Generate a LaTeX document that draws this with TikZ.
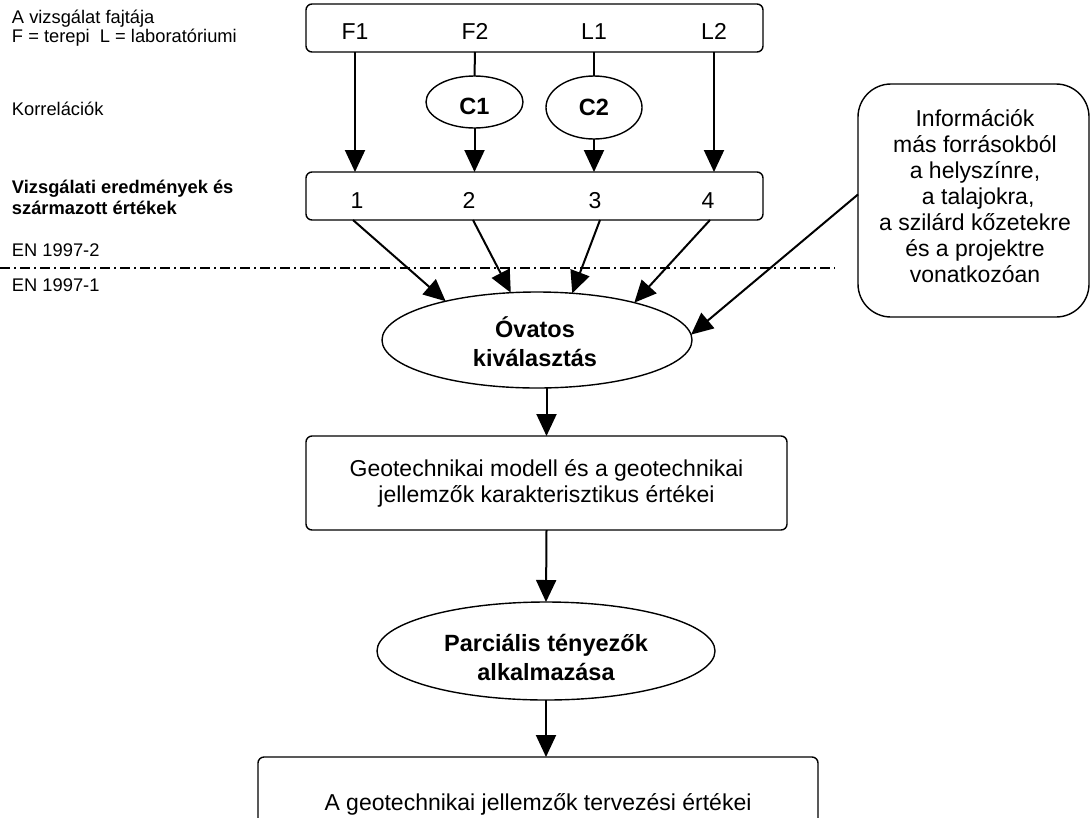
\documentclass[tikz,border=0pt]{standalone}
\usepackage{fontspec}
\setmainfont{Liberation Sans}
\usetikzlibrary{arrows.meta,shapes.geometric}
\begin{document}
\begin{tikzpicture}[x=1pt,y=-1pt,
  every node/.style={inner sep=0pt, outer sep=0pt},
  big/.style={font=\fontsize{23}{26}\selectfont},
  bigb/.style={font=\fontsize{23.5}{29}\selectfont\bfseries},
  small/.style={font=\fontsize{18.3}{21}\selectfont},
  smallb/.style={font=\fontsize{18.3}{21}\selectfont\bfseries},
  rbox/.style={draw, line width=1.4pt, rounded corners=6pt},
  oval/.style={draw, ellipse, line width=1.4pt},
  conn/.style={line width=2pt},
  arr/.style={line width=2pt, -{Triangle[length=22pt,width=20pt]}}]
\useasboundingbox (0,0) rectangle (1091,817);
\clip (0,0) rectangle (1091,817);

% left labels
\node[small, anchor=base west] (lab1) at (12,23.5) {A vizsgálat fajtája};
\node[small, anchor=base west] (lab2) at (12,42) {F = terepi\ \ L = laboratóriumi};
\node[small, anchor=base west] (lab3) at (12,115) {Korrelációk};
\node[smallb, anchor=base west] (lab4) at (12,193) {Vizsgálati eredmények és};
\node[smallb, anchor=base west] (lab5) at (12,214) {származott értékek};
\node[small, anchor=base west] (lab6) at (12,256) {EN 1997-2};
\node[small, anchor=base west] (lab7) at (12,291) {EN 1997-1};

% separator
\coordinate (sepL) at (0,268);
\coordinate (sepR) at (835,268);
\draw[line width=1.3pt, dash pattern=on 10pt off 4pt on 2pt off 4pt] (sepL) -- (sepR);

% top box
\node[rbox, minimum width=457pt, minimum height=48pt] (top) at (534.5,28) {};
\node[big, anchor=base] (F1) at (355,39) {F1};
\node[big, anchor=base] (F2) at (475,39) {F2};
\node[big, anchor=base] (L1) at (594,39) {L1};
\node[big, anchor=base] (L2) at (714,39) {L2};

% correlations
\node[oval, minimum width=97pt, minimum height=52pt] (C1) at (474.5,102) {};
\node[bigb, anchor=base] (C1t) at (474.5,114) {C1};
\node[oval, minimum width=96pt, minimum height=63pt] (C2) at (594,107.5) {};
\node[bigb, anchor=base] (C2t) at (594,115) {C2};

% results box
\node[rbox, minimum width=457pt, minimum height=48pt] (b2) at (534.5,196) {};
\node[big, anchor=base] (n1) at (357,208) {1};
\node[big, anchor=base] (n2) at (469,208) {2};
\node[big, anchor=base] (n3) at (595,208) {3};
\node[big, anchor=base] (n4) at (708,208) {4};

% arrows top -> results
\draw[arr] (F1 |- top.south) -- (F1 |- b2.north);
\draw[conn] (F2 |- top.south) -- (C1.north);
\draw[arr] (C1.south) -- (C1.south |- b2.north);
\draw[conn] (L1 |- top.south) -- (C2.north);
\draw[arr] (C2.south) -- (C2.south |- b2.north);
\draw[arr] (L2 |- top.south) -- (L2 |- b2.north);

% info box
\node[draw, line width=1.4pt, rounded corners=33pt, minimum width=231pt, minimum height=233pt] (info) at (973.5,200.5) {};
\node[align=center, font=\fontsize{23}{26}\selectfont] (infot) at (975,196)
  {Információk\\más forrásokból\\a helyszínre,\\\ a talajokra,\\a szilárd kőzetekre\\és a projektre\\vonatkozóan};

% cautious selection
\node[oval, minimum width=310pt, minimum height=96pt] (ov) at (537,340) {};
\node[bigb, align=center] (ovt) at (535,342) {Óvatos\\kiválasztás};

\coordinate (s1) at (353,220);
\coordinate (s2) at (473,220);
\coordinate (s3) at (600,220);
\coordinate (s4) at (710,220);
\draw[arr] (s1) -- (ov.157);
\draw[arr] (s2) -- (ov.119);
\draw[arr] (s3) -- (ov.53);
\draw[arr] (s4) -- (ov.21);
\draw[arr] (info.177) -- (ov.2);

% characteristic values
\node[rbox, minimum width=481pt, minimum height=94pt, big, align=center] (b3) at (546.5,483)
  {Geotechnikai modell és a geotechnikai\\jellemzők karakterisztikus értékei};
\draw[arr] (b3.north |- ov.south) -- (b3.north);

% partial factors
\node[oval, minimum width=338pt, minimum height=98pt] (pa) at (546,651) {};
\node[bigb, align=center] (pat) at (546,657) {Parciális tényezők\\alkalmazása};
\draw[arr] (b3.south) -- (pa.north);

% design values
\node[rbox, minimum width=560pt, minimum height=94pt, big] (b4) at (538,804)
  {A geotechnikai jellemzők tervezési értékei};
\draw[arr] (pa.south) -- (pa.south |- b4.north);
\end{tikzpicture}
\end{document}
